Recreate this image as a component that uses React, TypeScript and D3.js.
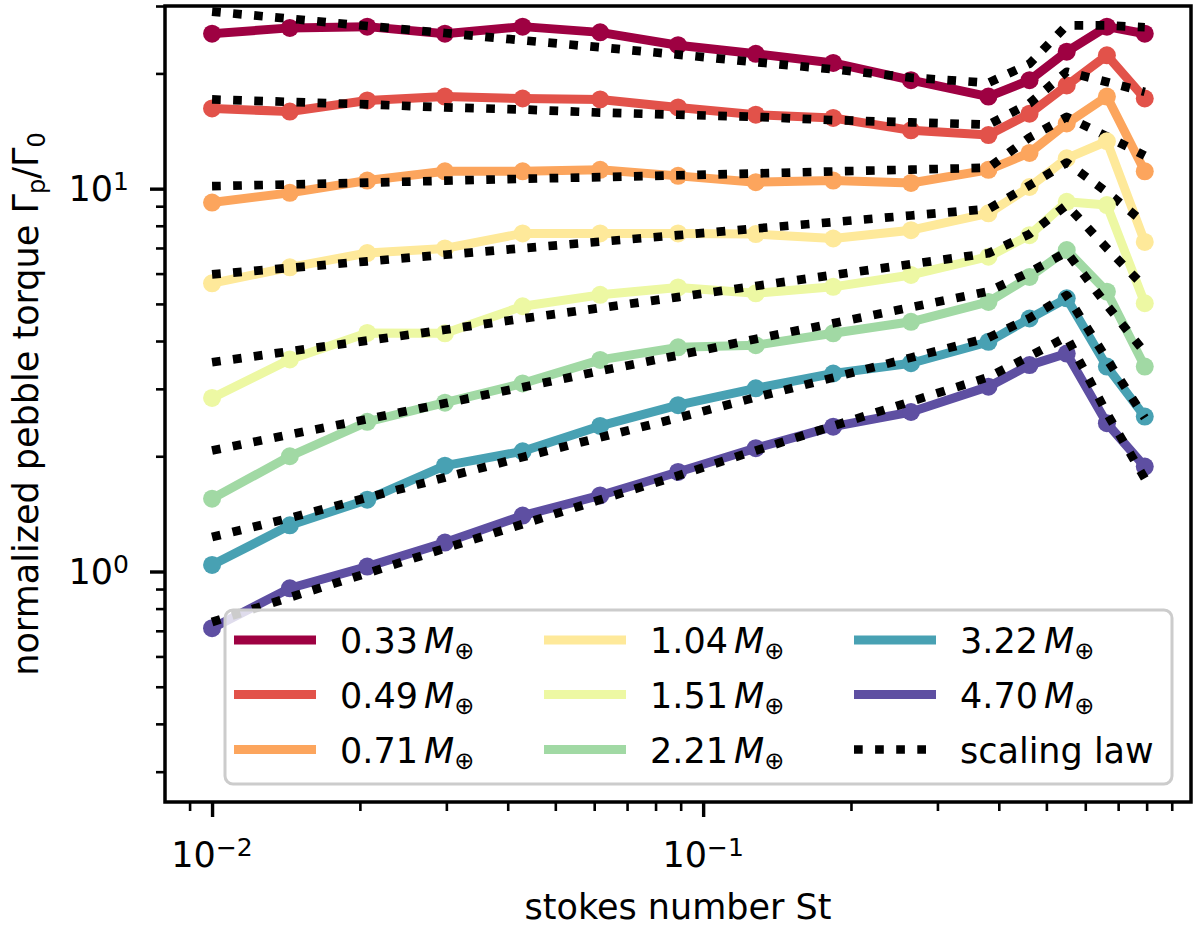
import React, { useEffect, useRef } from 'react';
import * as d3 from 'd3';

// Stokes numbers of the runs (x values, shared by every series)
const stokesNumbers = [0.01, 0.0144, 0.0207, 0.0298, 0.0429, 0.0617, 0.0889, 0.128, 0.184, 0.265, 0.381, 0.462, 0.55, 0.664, 0.793];

// planet masses in earth masses, one series each
const planetMasses = ['0.33', '0.49', '0.71', '1.04', '1.51', '2.21', '3.22', '4.70'];

// measured pebble torque, normalized
const torque033 = [25.4, 26.3, 26.5, 25.4, 26.5, 25.6, 23.7, 22.5, 21.3, 19.2, 17.4, 19.2, 22.8, 26.5, 25.4];
const torque049 = [16.2, 15.9, 17.0, 17.4, 17.2, 17.1, 16.3, 15.6, 15.3, 14.2, 13.8, 15.7, 18.6, 22.3, 17.2];
const torque071 = [9.2, 9.75, 10.5, 11.1, 11.1, 11.2, 10.8, 10.4, 10.5, 10.35, 11.2, 12.4, 14.8, 17.4, 11.1];
const torque104 = [5.66, 6.23, 6.79, 6.98, 7.64, 7.64, 7.64, 7.61, 7.41, 7.79, 8.62, 10.1, 12.0, 13.3, 7.26];
const torque151 = [2.84, 3.58, 4.2, 4.19, 4.93, 5.28, 5.52, 5.33, 5.54, 5.95, 6.64, 7.56, 9.24, 9.06, 5.02];
const torque221 = [1.55, 2.0, 2.46, 2.76, 3.1, 3.57, 3.85, 3.9, 4.19, 4.49, 5.06, 5.88, 6.91, 5.38, 3.43];
const torque322 = [1.04, 1.32, 1.54, 1.89, 2.06, 2.4, 2.72, 3.01, 3.29, 3.5, 3.98, 4.58, 5.17, 3.43, 2.54];
const torque470 = [0.711, 0.904, 1.03, 1.19, 1.4, 1.58, 1.82, 2.1, 2.39, 2.61, 3.04, 3.46, 3.71, 2.44, 1.88];

// scaling law prediction at the same Stokes numbers
const scaling033 = [29.0, 27.8, 26.6, 25.5, 24.4, 23.4, 22.4, 21.4, 20.5, 19.5, 18.9, 21.2, 26.7, 26.7, 26.4];
const scaling049 = [17.1, 16.85, 16.6, 16.3, 16.1, 15.8, 15.6, 15.4, 15.1, 14.9, 14.7, 16.7, 20.2, 19.0, 17.9];
const scaling071 = [10.15, 10.26, 10.37, 10.49, 10.61, 10.72, 10.84, 10.96, 11.09, 11.21, 11.34, 13.6, 15.4, 13.7, 12.2];
const scaling104 = [5.97, 6.21, 6.46, 6.72, 6.99, 7.27, 7.56, 7.87, 8.18, 8.51, 8.85, 10.2, 11.7, 9.79, 8.13];
const scaling151 = [3.52, 3.76, 4.01, 4.28, 4.58, 4.88, 5.21, 5.57, 5.95, 6.35, 6.78, 7.61, 9.06, 6.99, 5.53];
const scaling221 = [2.07, 2.28, 2.5, 2.75, 3.03, 3.34, 3.67, 4.05, 4.45, 4.9, 5.39, 6.05, 6.83, 4.96, 3.74];
const scaling322 = [1.23, 1.38, 1.56, 1.76, 1.99, 2.24, 2.52, 2.85, 3.21, 3.62, 4.08, 4.59, 5.27, 3.59, 2.52];
const scaling470 = [0.738, 0.856, 0.99, 1.15, 1.33, 1.54, 1.78, 2.07, 2.4, 2.78, 3.22, 3.65, 4.1, 2.59, 1.75];

// Spectral colormap sampled at 8 points
const seriesColors = ['#9e0142', '#e2524a', '#fca55d', '#fee99a', '#edf8a3', '#a1d9a4', '#48a1b3', '#5e4fa2'];

const xMajorTicks = [0.01, 0.1];
const xTickExponents = ['\u22122', '\u22121'];
const yMajorTicks = [1, 10];
const yTickExponents = ['0', '1'];

const xDomain = [0.00802, 0.985];
const yDomain = [0.25, 30];

const FONT = "'DejaVu Sans', sans-serif";
const plot = { left: 165, right: 1191, top: 6, bottom: 802 };
const LINE_W = 9;
const DOT_W = 8.7;
const DOT_DASH = '8.7 12.4';

interface Series {
  label: string;
  color: string;
  torque: number[];
  scaling: number[];
}

const torques = [torque033, torque049, torque071, torque104, torque151, torque221, torque322, torque470];
const scalings = [scaling033, scaling049, scaling071, scaling104, scaling151, scaling221, scaling322, scaling470];

const series: Series[] = planetMasses.map((m, i) => ({
  label: m,
  color: seriesColors[i],
  torque: torques[i],
  scaling: scalings[i]
}));

const drawChart = (svgEl: SVGSVGElement) => {
  const svg = d3.select(svgEl);
  svg.selectAll('*').remove();

  const x = d3.scaleLog().domain(xDomain).range([plot.left, plot.right]);
  const y = d3.scaleLog().domain(yDomain).range([plot.bottom, plot.top]);

  svg.append('rect').attr('width', 1200).attr('height', 928).attr('fill', '#fff');

  svg.append('defs').append('clipPath').attr('id', 'plot-clip')
    .append('rect')
    .attr('x', plot.left).attr('y', plot.top)
    .attr('width', plot.right - plot.left).attr('height', plot.bottom - plot.top);

  const isDecade = (t: number) => Math.abs(Math.log10(t) - Math.round(Math.log10(t))) < 1e-6;
  const xMinor = x.ticks().filter(t => !isDecade(t));
  const yMinor = y.ticks().filter(t => !isDecade(t));

  // lines: each run followed by its scaling law
  const lineGen = d3.line<number>()
    .x((_, i) => x(stokesNumbers[i]))
    .y(d => y(d));

  const plotGroup = svg.append('g').attr('clip-path', 'url(#plot-clip)');

  series.forEach(s => {
    plotGroup.append('path')
      .attr('d', lineGen(s.torque))
      .attr('fill', 'none')
      .attr('stroke', s.color)
      .attr('stroke-width', LINE_W)
      .attr('stroke-linejoin', 'round')
      .attr('stroke-linecap', 'square');

    plotGroup.append('g')
      .selectAll('circle')
      .data(s.torque)
      .enter()
      .append('circle')
      .attr('cx', (_, i) => x(stokesNumbers[i]))
      .attr('cy', d => y(d))
      .attr('r', 9)
      .attr('fill', s.color);

    plotGroup.append('path')
      .attr('d', lineGen(s.scaling))
      .attr('fill', 'none')
      .attr('stroke', '#000')
      .attr('stroke-width', DOT_W)
      .attr('stroke-dasharray', DOT_DASH)
      .attr('stroke-linejoin', 'round')
      .attr('stroke-linecap', 'butt');
  });

  // ticks
  const styleTicks = (width: number) => (g: d3.Selection<SVGGElement, unknown, null, undefined>) => {
    g.select('.domain').remove();
    g.selectAll('.tick line').attr('stroke', '#000').attr('stroke-width', width);
    g.selectAll('.tick text').remove();
  };

  svg.append('g')
    .attr('transform', `translate(0,${plot.bottom})`)
    .call(d3.axisBottom(x).tickValues(xMinor).tickSize(9).tickFormat(() => ''))
    .call(styleTicks(2.6));
  svg.append('g')
    .attr('transform', `translate(0,${plot.bottom})`)
    .call(d3.axisBottom(x).tickValues(xMajorTicks).tickSize(15).tickFormat(() => ''))
    .call(styleTicks(3.4));
  svg.append('g')
    .attr('transform', `translate(${plot.left},0)`)
    .call(d3.axisLeft(y).tickValues(yMinor).tickSize(9).tickFormat(() => ''))
    .call(styleTicks(2.6));
  svg.append('g')
    .attr('transform', `translate(${plot.left},0)`)
    .call(d3.axisLeft(y).tickValues(yMajorTicks).tickSize(15).tickFormat(() => ''))
    .call(styleTicks(3.4));

  // frame
  svg.append('rect')
    .attr('x', plot.left).attr('y', plot.top)
    .attr('width', plot.right - plot.left).attr('height', plot.bottom - plot.top)
    .attr('fill', 'none')
    .attr('stroke', '#000')
    .attr('stroke-width', 3.5);

  // tick labels with superscripts
  xMajorTicks.forEach((t, i) => {
    const label = svg.append('text')
      .attr('x', x(t))
      .attr('y', 867)
      .attr('text-anchor', 'middle')
      .attr('font-family', FONT)
      .attr('font-size', 35)
      .attr('fill', '#000');
    label.append('tspan').text('10');
    label.append('tspan').attr('dy', -11).attr('font-size', 25).text(xTickExponents[i]);
  });

  yMajorTicks.forEach((t, i) => {
    const label = svg.append('text')
      .attr('x', 129)
      .attr('y', y(t) + 12)
      .attr('text-anchor', 'end')
      .attr('font-family', FONT)
      .attr('font-size', 35)
      .attr('fill', '#000');
    label.append('tspan').text('10');
    label.append('tspan').attr('dy', -11).attr('font-size', 25).text(yTickExponents[i]);
  });

  // axis titles
  svg.append('text')
    .attr('x', (plot.left + plot.right) / 2)
    .attr('y', 919)
    .attr('text-anchor', 'middle')
    .attr('font-family', FONT)
    .attr('font-size', 35)
    .attr('fill', '#000')
    .text('stokes number St');

  const yTitle = svg.append('text')
    .attr('transform', `translate(38,${(plot.top + plot.bottom) / 2}) rotate(-90)`)
    .attr('text-anchor', 'middle')
    .attr('font-family', FONT)
    .attr('font-size', 35)
    .attr('fill', '#000');
  yTitle.append('tspan').text('normalized pebble torque \u0393');
  yTitle.append('tspan').attr('dy', 7).attr('font-size', 24).text('p');
  yTitle.append('tspan').attr('dy', -7).text('/\u0393');
  yTitle.append('tspan').attr('dy', 7).attr('font-size', 24).text('0');

  // legend
  const legend = svg.append('g');
  legend.append('rect')
    .attr('x', 225).attr('y', 610)
    .attr('width', 947).attr('height', 174)
    .attr('rx', 8).attr('ry', 8)
    .attr('fill', '#fff')
    .attr('fill-opacity', 0.8)
    .attr('stroke', '#cccccc')
    .attr('stroke-width', 3);

  const colX = [234, 544, 854];
  const rowY = [640, 694.5, 749.5];
  const entries = [
    ...series.map(s => ({ label: s.label, color: s.color, dotted: false })),
    { label: 'scaling law', color: '#000', dotted: true }
  ];

  entries.forEach((e, i) => {
    const col = Math.floor(i / 3);
    const row = i % 3;
    const hx = colX[col];
    const hy = rowY[row];
    legend.append('line')
      .attr('x1', hx).attr('x2', hx + 82)
      .attr('y1', hy).attr('y2', hy)
      .attr('stroke', e.color)
      .attr('stroke-width', e.dotted ? DOT_W : LINE_W)
      .attr('stroke-dasharray', e.dotted ? DOT_DASH : null);

    const txt = legend.append('text')
      .attr('x', hx + 106)
      .attr('y', hy + 13)
      .attr('font-family', FONT)
      .attr('font-size', 35)
      .attr('fill', '#000');
    if (e.dotted) {
      txt.text(e.label);
    } else {
      txt.append('tspan').text(e.label);
      txt.append('tspan').attr('dx', 6).attr('font-style', 'italic').text('M');
      txt.append('tspan').attr('dy', 6).attr('font-size', 24).text('\u2295');
    }
  });
};

export default function App() {
  const svgRef = useRef<SVGSVGElement>(null);

  useEffect(() => {
    if (!svgRef.current) return;
    drawChart(svgRef.current);
  }, []);

  return (
    <div style={{ position: 'absolute', left: 0, top: 0 }}>
      <svg ref={svgRef} width={1200} height={928} style={{ display: 'block' }} />
    </div>
  );
}
